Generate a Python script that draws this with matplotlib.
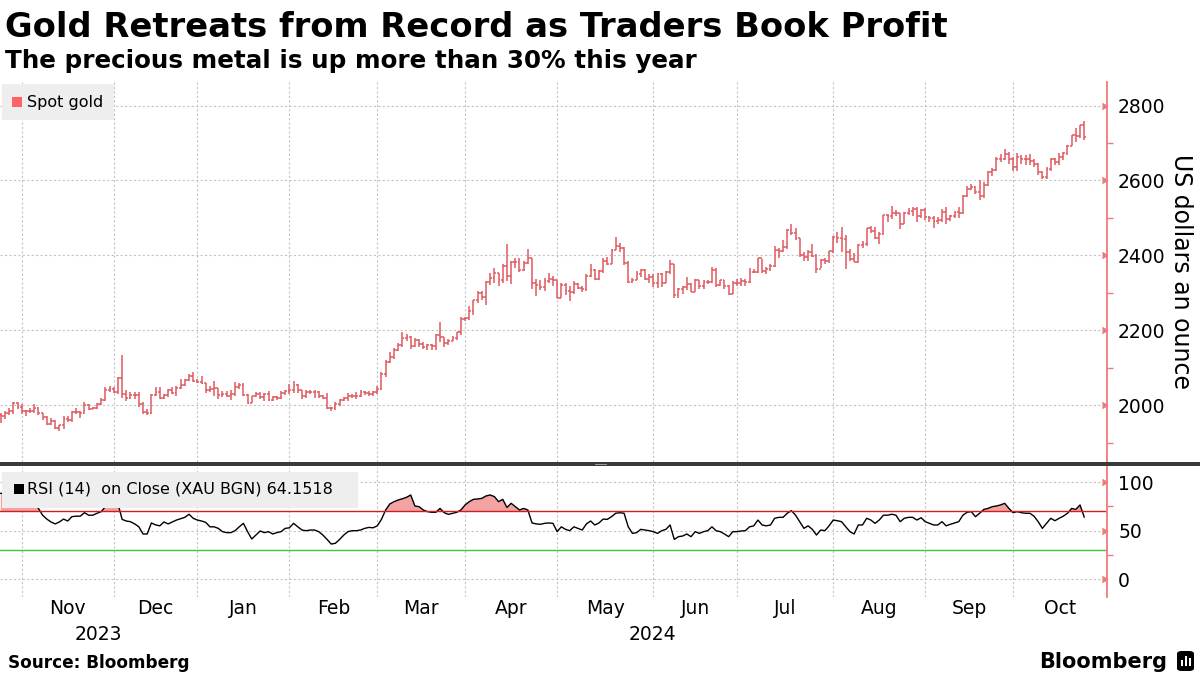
import matplotlib.pyplot as plt
import matplotlib.patches as mpatches
import matplotlib.transforms as mtransforms
import numpy as np
import pandas as pd

# ---- data: daily spot gold bars, Oct 24 2023 - Oct 23 2024 ----
first_open = 1973

close_oct23 = [1971, 1979, 1985, 2006, 1996, 1983]
high_oct23 = [1980, 1985, 1991, 2009, 2008, 2004]
low_oct23 = [1953, 1962, 1974, 1977, 1990, 1977]

close_nov23 = [1983, 1985, 1992, 1978, 1969, 1950, 1958, 1940, 1946, 1963, 1959,
               1981, 1981, 1978, 1999, 1990, 1992, 2002, 2014, 2041, 2044, 2036]
high_nov23 = [1988, 1993, 2004, 1994, 1980, 1971, 1965, 1960, 1947, 1971, 1971,
              1985, 1993, 1984, 2007, 2002, 1996, 2006, 2018, 2048, 2052, 2048]
low_nov23 = [1970, 1979, 1979, 1974, 1961, 1947, 1946, 1936, 1931, 1935, 1954,
             1955, 1975, 1965, 1977, 1987, 1989, 1989, 2000, 2011, 2034, 2031]

close_dec23 = [2072, 2029, 2019, 2026, 2028, 2004, 1981, 1980, 2027, 2036,
               2019, 2027, 2040, 2031, 2045, 2053, 2067, 2077, 2065, 2063]
high_dec23 = [2075, 2135, 2040, 2036, 2035, 2034, 2007, 1989, 2030, 2048,
              2047, 2030, 2043, 2047, 2050, 2071, 2070, 2084, 2088, 2071]
low_dec23 = [2030, 2018, 2010, 2016, 2017, 1996, 1976, 1973, 1975, 2025,
             2015, 2016, 2021, 2030, 2025, 2044, 2050, 2065, 2063, 2058]

close_jan24 = [2059, 2041, 2043, 2045, 2028, 2030, 2024, 2029, 2049, 2055, 2028,
               2006, 2023, 2029, 2022, 2029, 2014, 2021, 2018, 2033, 2037, 2039]
high_jan24 = [2078, 2060, 2050, 2064, 2046, 2038, 2037, 2040, 2063, 2060, 2058,
              2029, 2025, 2034, 2034, 2031, 2037, 2023, 2025, 2037, 2040, 2056]
low_jan24 = [2056, 2031, 2035, 2025, 2017, 2022, 2021, 2013, 2025, 2044, 2023,
             2002, 2006, 2021, 2016, 2011, 2011, 2010, 2013, 2015, 2026, 2030]

close_feb24 = [2054, 2039, 2025, 2035, 2035, 2034, 2024, 2020, 1993, 1992, 2004,
               2013, 2018, 2024, 2025, 2024, 2035, 2031, 2030, 2034, 2044]
high_feb24 = [2065, 2057, 2041, 2039, 2041, 2040, 2037, 2027, 2032, 1996, 2009,
              2016, 2022, 2031, 2030, 2035, 2041, 2038, 2038, 2038, 2052]
low_feb24 = [2031, 2031, 2015, 2020, 2030, 2020, 2019, 2015, 1990, 1984, 1988,
             1998, 2011, 2012, 2019, 2016, 2022, 2028, 2025, 2025, 2030]

close_mar24 = [2083, 2114, 2128, 2148, 2160, 2179, 2182, 2158, 2175, 2162, 2156,
               2160, 2157, 2187, 2181, 2165, 2172, 2179, 2195, 2230, 2233]
high_mar24 = [2088, 2120, 2141, 2152, 2165, 2195, 2189, 2184, 2178, 2177, 2168,
              2163, 2163, 2190, 2222, 2183, 2176, 2184, 2196, 2236, 2236]
low_mar24 = [2039, 2076, 2112, 2123, 2144, 2156, 2170, 2150, 2156, 2154, 2151,
             2146, 2146, 2147, 2168, 2156, 2161, 2170, 2174, 2187, 2225]

close_apr24 = [2250, 2280, 2300, 2290, 2330, 2339, 2352, 2333, 2372, 2344, 2383,
               2383, 2361, 2379, 2392, 2327, 2322, 2316, 2332, 2337, 2335, 2286]
high_apr24 = [2266, 2282, 2305, 2305, 2331, 2354, 2365, 2354, 2378, 2431, 2385,
              2392, 2392, 2385, 2417, 2392, 2337, 2335, 2339, 2352, 2346, 2335]
low_apr24 = [2228, 2240, 2272, 2280, 2268, 2320, 2327, 2319, 2325, 2331, 2324,
             2365, 2355, 2359, 2378, 2310, 2292, 2308, 2306, 2326, 2318, 2285]

close_may24 = [2320, 2304, 2301, 2324, 2314, 2309, 2346, 2360, 2336, 2358, 2386, 2377,
               2415, 2425, 2420, 2379, 2329, 2334, 2351, 2361, 2338, 2343, 2327]
high_may24 = [2326, 2326, 2319, 2331, 2326, 2318, 2351, 2378, 2364, 2362, 2392, 2395,
              2417, 2450, 2432, 2422, 2385, 2340, 2357, 2364, 2363, 2350, 2349]
low_may24 = [2285, 2294, 2277, 2297, 2311, 2303, 2306, 2342, 2333, 2335, 2354, 2373,
             2377, 2414, 2410, 2375, 2326, 2325, 2333, 2342, 2334, 2327, 2315]

close_jun24 = [2350, 2327, 2355, 2376, 2294, 2311, 2316, 2324, 2303, 2333,
               2319, 2330, 2328, 2360, 2322, 2334, 2319, 2298, 2327, 2326]
high_jun24 = [2354, 2352, 2358, 2388, 2378, 2314, 2317, 2342, 2325, 2336,
              2335, 2335, 2334, 2368, 2366, 2335, 2334, 2322, 2331, 2338]
low_jun24 = [2314, 2315, 2325, 2350, 2287, 2286, 2298, 2307, 2301, 2302,
             2311, 2310, 2323, 2326, 2316, 2319, 2311, 2293, 2297, 2319]

close_jul24 = [2332, 2330, 2356, 2356, 2392, 2359, 2364, 2371, 2414, 2411, 2422, 2469,
               2459, 2445, 2400, 2396, 2409, 2398, 2364, 2387, 2384, 2411, 2448]
high_jul24 = [2339, 2336, 2365, 2363, 2393, 2390, 2368, 2377, 2424, 2419, 2440, 2470,
              2483, 2474, 2447, 2410, 2413, 2431, 2404, 2390, 2393, 2412, 2451]
low_jul24 = [2318, 2319, 2327, 2352, 2354, 2353, 2350, 2358, 2368, 2392, 2410, 2418,
             2454, 2440, 2395, 2385, 2384, 2396, 2353, 2365, 2376, 2380, 2407]

close_aug24 = [2446, 2443, 2410, 2390, 2382, 2427, 2431, 2472, 2465, 2447, 2456,
               2507, 2504, 2514, 2512, 2484, 2512, 2518, 2525, 2504, 2521, 2503]
high_aug24 = [2462, 2477, 2453, 2418, 2407, 2431, 2437, 2474, 2479, 2475, 2463,
              2509, 2510, 2531, 2520, 2513, 2517, 2526, 2528, 2528, 2525, 2526]
low_aug24 = [2432, 2410, 2364, 2386, 2381, 2380, 2419, 2425, 2460, 2444, 2430,
             2455, 2488, 2498, 2506, 2470, 2483, 2508, 2505, 2490, 2500, 2495]

close_sep24 = [2500, 2493, 2495, 2516, 2497, 2506, 2516, 2512, 2558, 2578, 2582,
               2569, 2559, 2587, 2622, 2628, 2657, 2657, 2672, 2658, 2635]
high_sep24 = [2506, 2504, 2503, 2524, 2529, 2509, 2519, 2529, 2560, 2586, 2590,
              2586, 2600, 2595, 2626, 2634, 2664, 2670, 2685, 2675, 2664]
low_sep24 = [2488, 2472, 2484, 2489, 2485, 2493, 2500, 2500, 2510, 2555, 2575,
             2565, 2547, 2553, 2584, 2613, 2624, 2649, 2655, 2643, 2624]

close_oct24 = [2663, 2658, 2656, 2653, 2644, 2622, 2609, 2631, 2657,
               2649, 2662, 2674, 2693, 2721, 2720, 2749, 2715]
high_oct24 = [2673, 2667, 2669, 2670, 2657, 2646, 2625, 2636, 2661,
              2660, 2673, 2675, 2696, 2722, 2740, 2749, 2758]
low_oct24 = [2624, 2645, 2641, 2640, 2637, 2615, 2604, 2605, 2626,
             2642, 2642, 2655, 2668, 2692, 2704, 2713, 2708]

# RSI (14) on close
rsi_oct23 = [88.6, 88.6, 89, 89.3, 90.3, 79]
rsi_nov23 = [79, 79, 79, 73, 66, 62, 59, 57, 59, 62, 60, 64.5, 65, 65, 68.6,
             66, 66, 68, 69.7, 74.8, 78.3, 74.8]
rsi_dec23 = [78.3, 61.7, 60, 59.3, 57, 54, 46.6, 46.6, 58, 56, 55, 59, 57, 59,
             61, 62.4, 63.8, 67, 62.8, 61]
rsi_jan24 = [60, 58.6, 54, 54, 52.4, 49, 48, 48, 50, 54, 57.6, 49, 41.4, 45.5,
             49.7, 48, 49, 46.6, 48, 49, 52.4, 53]
rsi_feb24 = [57.6, 54, 50.7, 50, 50.7, 50.7, 49, 45.5, 41, 36.2, 37, 41, 45.5,
             49, 50, 50, 50.7, 52.4, 53.4, 53, 55]
rsi_mar24 = [61.7, 71.4, 77.6, 80, 81.7, 83, 84.5, 86.9, 75.5, 74.8, 71.4, 69.7,
             69, 69, 73, 68.6, 66.9, 68, 69, 71.4, 76.6]
rsi_apr24 = [80, 82.4, 82.8, 83.4, 85.9, 86.9, 85.2, 80, 82.4, 74, 78.3, 74.8,
             71.4, 73, 71.4, 58, 57, 56.6, 57.6, 58, 57.6, 49]
rsi_may24 = [54, 51.4, 50, 54, 52.4, 50.7, 57, 60, 55.9, 58, 62, 61.7, 64.5, 68,
             68.6, 68, 54, 47.2, 48, 51.4, 50.7, 50, 49]
rsi_jun24 = [47.2, 50, 51.4, 55.9, 41, 43.8, 44.5, 46.6, 43.8, 49, 47.2, 49, 50,
             54, 50, 49, 46.6, 43.8, 49, 49]
rsi_jul24 = [49.7, 50, 54, 55, 61, 55.9, 55, 55.9, 62.8, 63.8, 63.8, 68, 70.7,
             66, 59.3, 52.4, 55, 51.4, 45.5, 50.7, 50, 55, 61]
rsi_aug24 = [60.3, 59.3, 54, 49, 46.6, 55.9, 55.9, 62.8, 61, 57.6, 61, 66, 66,
             67, 66, 59.3, 62.8, 63.8, 63.8, 61, 63.4, 59.3]
rsi_sep24 = [57.6, 55.9, 55.9, 59.3, 55, 56.6, 58, 59.3, 66, 69, 69.7, 64.5, 68,
             72, 73, 74.8, 75.5, 76.6, 78.3, 73, 68.6]
rsi_oct24 = [69.7, 68.6, 68, 68, 65, 59.3, 52.4, 57.6, 62.8, 60.3, 62.8, 65, 68,
             73, 72, 76.6, 64.15]

closes = np.array(close_oct23 + close_nov23 + close_dec23 + close_jan24 + close_feb24
                  + close_mar24 + close_apr24 + close_may24 + close_jun24 + close_jul24
                  + close_aug24 + close_sep24 + close_oct24, dtype=float)
highs = np.array(high_oct23 + high_nov23 + high_dec23 + high_jan24 + high_feb24
                 + high_mar24 + high_apr24 + high_may24 + high_jun24 + high_jul24
                 + high_aug24 + high_sep24 + high_oct24, dtype=float)
lows = np.array(low_oct23 + low_nov23 + low_dec23 + low_jan24 + low_feb24
                + low_mar24 + low_apr24 + low_may24 + low_jun24 + low_jul24
                + low_aug24 + low_sep24 + low_oct24, dtype=float)
rsi = np.array(rsi_oct23 + rsi_nov23 + rsi_dec23 + rsi_jan24 + rsi_feb24
               + rsi_mar24 + rsi_apr24 + rsi_may24 + rsi_jun24 + rsi_jul24
               + rsi_aug24 + rsi_sep24 + rsi_oct24, dtype=float)
opens = np.r_[first_open, closes[:-1]]  # spot gold opens at the prior close

dates = pd.bdate_range("2023-10-24", "2024-10-23")
dates = dates[~dates.isin(pd.to_datetime(["2023-12-25", "2024-01-01"]))]
x = np.arange(len(dates))

# month boundaries sit on the last trading day of each month
bounds = [i - 1 for i in range(1, len(dates)) if dates[i].month != dates[i - 1].month]
XMIN, XMAX = -0.19, 264.45

BAR = "#e05a60"
AXC = "#f07a7a"
GRID = "#c4c4c4"

fig = plt.figure(figsize=(12, 6.75), dpi=100)
W, H = 1200, 675

ax = fig.add_axes([0, 1 - 462 / H, 1107 / W, 380 / H])
ax2 = fig.add_axes([0, 1 - 597 / H, 1107 / W, 130 / H])

# ---- price panel ----
ax.vlines(x, lows, highs, color=BAR, lw=1.1)
ax.hlines(opens, x - 0.45, x, color=BAR, lw=1.1)
ax.hlines(closes, x, x + 0.45, color=BAR, lw=1.1)
ax.set_xlim(XMIN, XMAX)
ax.set_ylim(1848, 2863)

for a in (ax, ax2):
    for b in bounds:
        a.axvline(b, color=GRID, lw=0.8, ls=(0, (2, 2)), zorder=0)
    for s in ("left", "top", "bottom"):
        a.spines[s].set_visible(False)
    a.spines["right"].set_color(AXC)
    a.spines["right"].set_linewidth(1.3)
    a.set_xticks([])
    a.yaxis.tick_right()
    a.tick_params(axis="y", which="major", length=0, pad=8, labelsize=13.5, colors="black")
    a.tick_params(axis="y", which="minor", length=4, width=1, color=AXC, direction="out")

major = [2000, 2200, 2400, 2600, 2800]
ax.set_yticks(major)
ax.set_yticks([1900, 2100, 2300, 2500, 2700], minor=True)
for v in major:
    ax.axhline(v, color=GRID, lw=0.8, ls=(0, (2, 2)), zorder=0)
trans = mtransforms.blended_transform_factory(ax.transAxes, ax.transData)
ax.plot([1.0] * len(major), major, ls="none", marker=5, ms=5, color=AXC,
        transform=trans, clip_on=False)

# ---- RSI panel ----
ax2.plot(x, rsi, color="black", lw=1)
ax2.fill_between(x, rsi, 70, where=rsi > 70, interpolate=True, color="#f4a3a3", lw=0)
ax2.axhline(70, color="#cc1f1f", lw=1)
ax2.axhline(30, color="#3fc43f", lw=1)
ax2.set_xlim(XMIN, XMAX)
ax2.set_ylim(-18.5, 115.8)
rmajor = [0, 50, 100]
ax2.set_yticks(rmajor)
ax2.set_yticks([25, 75], minor=True)
for v in rmajor:
    ax2.axhline(v, color=GRID, lw=0.8, ls=(0, (2, 2)), zorder=0)
trans2 = mtransforms.blended_transform_factory(ax2.transAxes, ax2.transData)
ax2.plot([1.0] * 3, rmajor, ls="none", marker=5, ms=5, color=AXC,
         transform=trans2, clip_on=False)

# month and year labels
edges = [XMIN] + bounds + [XMAX]
xt = ax2.get_xaxis_transform()
for i in range(len(bounds)):
    mid = (bounds[i] + edges[i + 2]) / 2
    ax2.text(mid, -0.09, dates[bounds[i] + 1].strftime("%b"), transform=xt,
             ha="center", va="center", fontsize=13.5)
ax2.text((XMIN + bounds[2]) / 2, -0.29, "2023", transform=xt, ha="center", va="center", fontsize=13.5)
ax2.text((bounds[2] + XMAX) / 2, -0.29, "2024", transform=xt, ha="center", va="center", fontsize=13.5)

# separator between panels, with its small drag handle
fig.add_artist(mpatches.Rectangle((0, 1 - 466 / H), 1, 4 / H, transform=fig.transFigure,
                                  color="#3a3a3a", lw=0))
for hy in (463.3, 464.8):
    fig.add_artist(mpatches.Rectangle((595 / W, 1 - hy / H), 12 / W, 0.7 / H,
                                      transform=fig.transFigure, color="#9a9a9a", lw=0))

# legends
fig.add_artist(mpatches.Rectangle((2 / W, 1 - 120 / H), 112 / W, 36 / H,
                                  transform=fig.transFigure, color="#eeeeee", lw=0))
fig.add_artist(mpatches.Rectangle((12 / W, 1 - 107 / H), 10 / W, 10 / H,
                                  transform=fig.transFigure, color="#ff6262", lw=0))
fig.text(27 / W, 1 - 102 / H, "Spot gold", fontsize=11.5, va="center")

fig.add_artist(mpatches.Rectangle((2 / W, 1 - 508 / H), 356 / W, 36 / H,
                                  transform=fig.transFigure, color="#eeeeee", lw=0))
fig.add_artist(mpatches.Rectangle((14 / W, 1 - 494 / H), 10 / W, 10 / H,
                                  transform=fig.transFigure, color="black", lw=0))
fig.text(27 / W, 1 - 489 / H, "RSI (14)  on Close (XAU BGN) 64.1518", fontsize=11.5, va="center")

# titles and notes
fig.text(5 / W, 1 - 37 / H, "Gold Retreats from Record as Traders Book Profit",
         fontsize=24.3, fontweight="bold", va="baseline")
fig.text(5 / W, 1 - 68 / H, "The precious metal is up more than 30% this year",
         fontsize=17.7, fontweight="bold", va="baseline")
fig.text(1181 / W, 1 - 272 / H, "US dollars an ounce", rotation=270, fontsize=17,
         ha="center", va="center")
fig.text(8 / W, 1 - 668 / H, "Source: Bloomberg", fontsize=12.2, fontweight="bold", va="baseline")
fig.text(1167 / W, 1 - 668 / H, "Bloomberg", fontsize=15, fontweight="bold", va="baseline", ha="right")
fig.add_artist(mpatches.FancyBboxPatch((1177 / W, 1 - 671 / H), 17 / W, 20 / H,
                                       boxstyle="round,pad=0,rounding_size=0.004",
                                       transform=fig.transFigure, color="black", lw=0))
for bx, bh in zip([1181, 1185, 1189], [6, 10, 8]):
    fig.add_artist(mpatches.Rectangle((bx / W, 1 - 666 / H), 2 / W, bh / H,
                                      transform=fig.transFigure, color="white", lw=0))

fig.savefig("out.png", dpi=100)
